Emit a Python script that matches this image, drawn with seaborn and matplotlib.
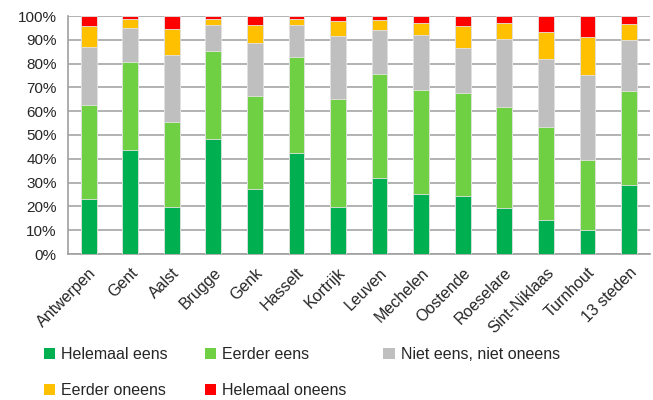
import numpy as np
import pandas as pd
import matplotlib
matplotlib.use("Agg")
import matplotlib.pyplot as plt
import seaborn as sns
from matplotlib.patches import Patch
from matplotlib.ticker import FixedLocator

## categories (cities)
steden = ['Antwerpen', 'Gent', 'Aalst', 'Brugge', 'Genk', 'Hasselt', 'Kortrijk',
          'Leuven', 'Mechelen', 'Oostende', 'Roeselare', 'Sint-Niklaas', 'Turnhout', '13 steden']

## series values in %
helemaal_eens = [23.1, 43.7, 19.7, 48.3, 27.2, 42.6, 19.7, 32.1, 25.1, 24.5, 19.3, 14.1, 10.1, 29.0]
eerder_eens = [39.5, 37.1, 35.8, 37.1, 39.3, 40.2, 45.4, 43.7, 43.9, 43.3, 42.6, 39.4, 29.5, 39.6]
niet_eens_niet_oneens = [24.5, 14.3, 28.0, 11.0, 22.2, 13.6, 26.4, 18.2, 22.9, 18.9, 28.3, 28.6, 35.5, 21.2]
eerder_oneens = [8.7, 3.5, 11.0, 2.3, 7.5, 2.3, 6.4, 4.3, 5.0, 9.1, 7.0, 11.2, 15.9, 6.8]
helemaal_oneens = [4.2, 1.4, 5.5, 1.3, 3.8, 1.3, 2.1, 1.7, 3.1, 4.2, 2.8, 6.7, 9.0, 3.4]

labels = ['Helemaal eens', 'Eerder eens', 'Niet eens, niet oneens', 'Eerder oneens', 'Helemaal oneens']
colors = ['#00B050', '#70D044', '#BFBFBF', '#FFC000', '#FF0000']

series = [helemaal_eens, eerder_eens, niet_eens_niet_oneens, eerder_oneens, helemaal_oneens]

## cumulative table, so we can layer the bars from top to bottom
df = pd.DataFrame({lab: vals for lab, vals in zip(labels, series)}, index=steden)
dfCum = df.cumsum(axis=1)
dfCum['stad'] = steden

sns.set_style("white")
plt.rcParams['font.family'] = ['Liberation Sans', 'DejaVu Sans']

fig, ax = plt.subplots(figsize=(6.53, 4.0), dpi=100)
fig.subplots_adjust(left=0.104, right=0.995, top=0.96, bottom=0.365)

## draw the biggest cumulative first so smaller ones sit on top
for lab, col in reversed(list(zip(labels, colors))):
    sns.barplot(data=dfCum, x='stad', y=lab, color=col, width=0.38,
                edgecolor='#E4E4E4', linewidth=0.6, ax=ax, zorder=3, saturation=1)

ax.set_ylim(0, 100)
ax.set_xlim(-0.5, len(steden) - 0.5)
ax.set_yticks(np.arange(0, 101, 10))
ax.set_yticklabels([f'{v}%' for v in range(0, 101, 10)], fontsize=11)
ax.set_xlabel('')
ax.set_ylabel('')

## x labels rotated, ticks between the categories
ax.set_xticks(range(len(steden)))
ax.set_xticklabels(steden, rotation=45, ha='right', rotation_mode='anchor', fontsize=11.5)
ax.xaxis.set_minor_locator(FixedLocator(np.arange(-0.5, len(steden), 1)))
ax.tick_params(axis='x', which='major', length=0, pad=8)
ax.tick_params(axis='x', which='minor', length=5, color='#A0A0A0', width=1)
ax.tick_params(axis='y', length=5, color='#A0A0A0', width=1, pad=3)

ax.grid(axis='y', color='#A6A6A6', linewidth=1.2, zorder=0)
ax.set_axisbelow(True)
for s in ['top', 'right']:
    ax.spines[s].set_visible(False)
for s in ['left', 'bottom']:
    ax.spines[s].set_color('#A0A0A0')
    ax.spines[s].set_linewidth(1.2)

## legend at the bottom, 3 columns, filled row by row
handles = [Patch(facecolor=c, edgecolor='none', label=l) for l, c in zip(labels, colors)]
order = [0, 3, 1, 4, 2]
fig.legend(handles=[handles[i] for i in order], loc='upper left', bbox_to_anchor=(0.045, 0.168), ncol=3,
           frameon=False, fontsize=11.5, handlelength=0.7, handleheight=0.7,
           handletextpad=0.4, columnspacing=2.3, labelspacing=1.3)

plt.savefig('out.png', dpi=100)
